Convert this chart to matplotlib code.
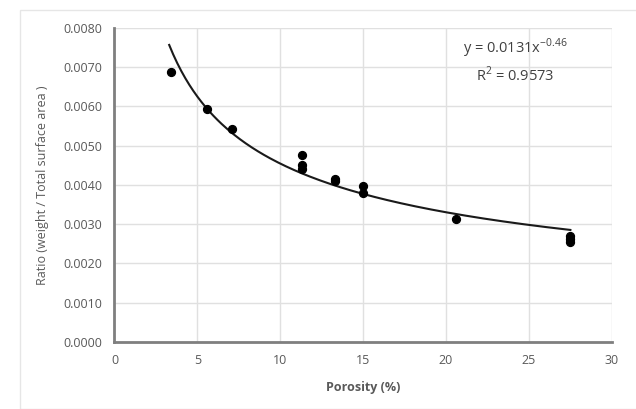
import numpy as np
import matplotlib.pyplot as plt
from matplotlib.patches import Rectangle

# porosity (%) and ratio values
porosidad = [3.4, 5.6, 7.1, 11.3, 11.3, 11.3, 13.3, 13.3, 15.0, 15.0, 20.6, 27.5, 27.5, 27.5]
ratio = [0.00688, 0.00594, 0.00543, 0.00475, 0.00450, 0.00440, 0.00415, 0.00410,
         0.00398, 0.00380, 0.00312, 0.00270, 0.00262, 0.00255]

# power fit shown on the chart
coef_a = 0.0131
coef_b = -0.46
r2 = 0.9573

x_ticks = [0, 5, 10, 15, 20, 25, 30]
y_ticks = [0.0, 0.001, 0.002, 0.003, 0.004, 0.005, 0.006, 0.007, 0.008]

plt.rcParams['font.family'] = ['Open Sans', 'DejaVu Sans']

fig = plt.figure(figsize=(6.36, 4.09), dpi=100)
fig.patches.append(Rectangle((20 / 636, 0), 1, 1 - 10 / 409, transform=fig.transFigure,
                             fill=False, edgecolor='#e6e6e6', linewidth=1))
ax = fig.add_axes([0.180, 0.164, 0.782, 0.768])

# curve of the fit
x_fit = np.linspace(min(porosidad) - 0.1, max(porosidad), 200)
y_fit = coef_a * x_fit ** coef_b
ax.plot(x_fit, y_fit, color='#1a1a1a', linewidth=1.5, zorder=3)
ax.scatter(porosidad, ratio, s=32, color='black', zorder=4)

ax.set_xlim(0, 30)
ax.set_ylim(0, 0.008)
ax.set_xticks(x_ticks)
ax.set_yticks(y_ticks)
ax.set_yticklabels([f'{v:.4f}' for v in y_ticks])
ax.grid(True, color='#e0e0e0', linewidth=1)
ax.set_axisbelow(True)

for lado in ['top', 'right']:
    ax.spines[lado].set_visible(False)
for lado in ['left', 'bottom']:
    ax.spines[lado].set_color('#7f7f7f')
    ax.spines[lado].set_linewidth(2)

ax.tick_params(length=0, labelsize=9, labelcolor='#595959', pad=9)
ax.set_xlabel('Porosity (%)', fontsize=9, fontweight='bold', color='#595959', labelpad=10)
ax.set_ylabel('Ratio (weight / Total surface area )', fontsize=9, color='#595959', labelpad=10)

ax.text(0.805, 0.935, 'y = 0.0131x$^{\\mathregular{-0.46}}$', transform=ax.transAxes,
        ha='center', va='center', fontsize=10.5, color='#404040')
ax.text(0.805, 0.85, f'R$^{{\\mathregular{{2}}}}$ = {r2:.4f}', transform=ax.transAxes,
        ha='center', va='center', fontsize=10.5, color='#404040')

fig.savefig('out.png', dpi=100)
